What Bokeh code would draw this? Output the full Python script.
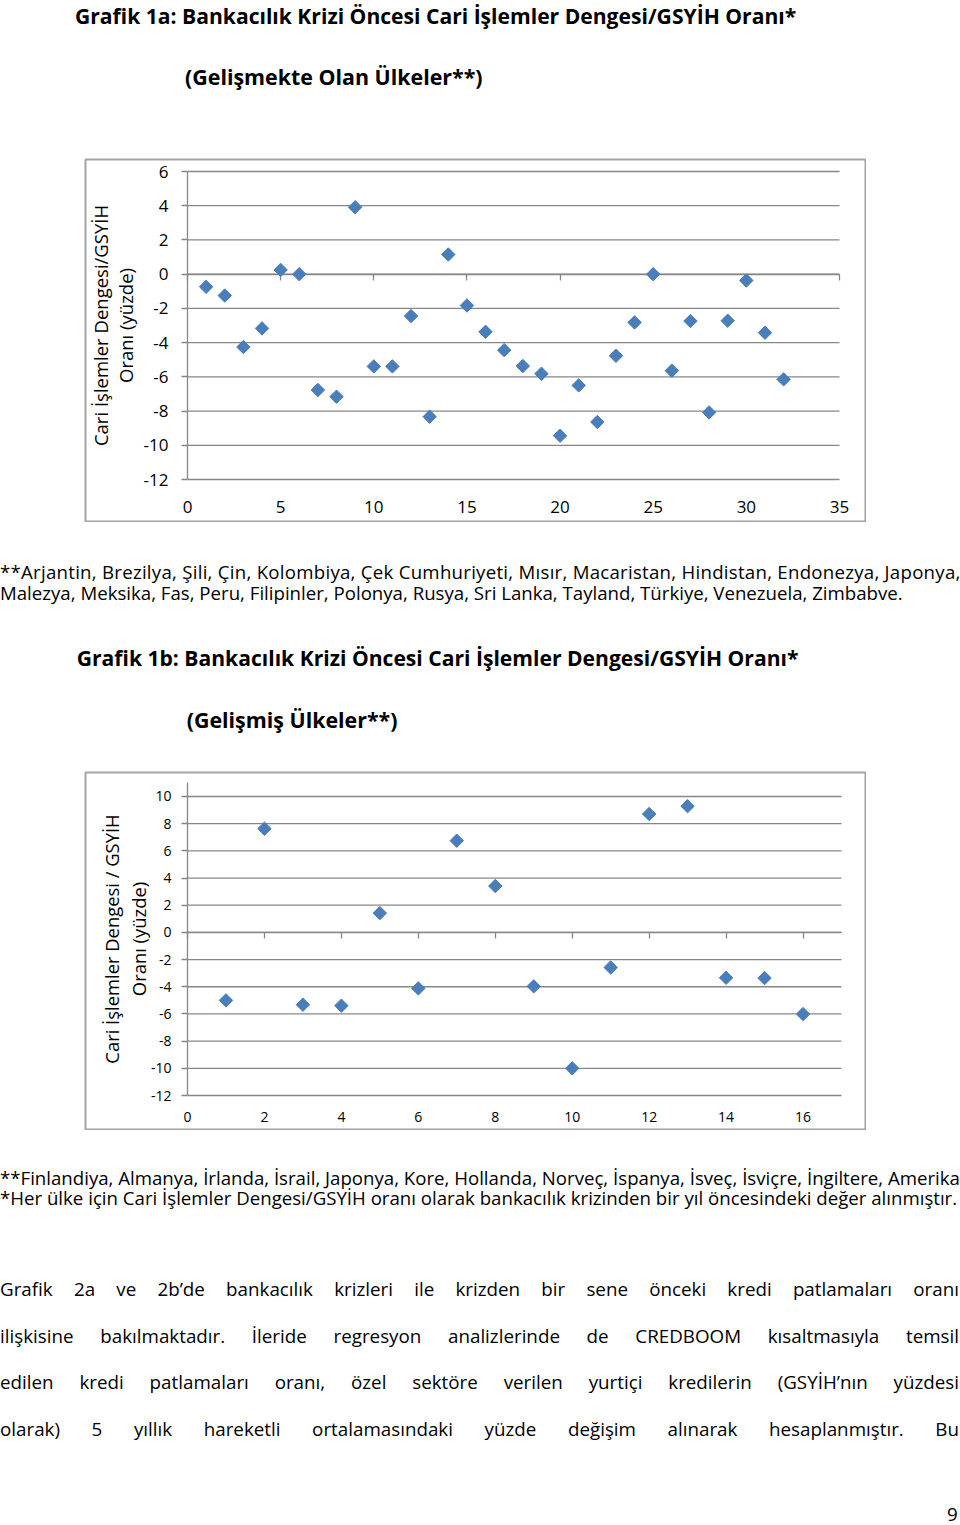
from bokeh.plotting import figure
from bokeh.models import (Range1d, LinearAxis, FixedTicker, Div, Spacer,
                          PrintfTickFormatter)
from bokeh.layouts import column, row
from bokeh.embed import file_html
from bokeh.resources import INLINE

# ---------------- data ----------------
x_1a = [1, 2, 3, 4, 5, 6, 7, 8, 9, 10, 11, 12, 13, 14, 15, 16,
        17, 18, 19, 20, 21, 22, 23, 24, 25, 26, 27, 28, 29, 30, 31, 32]
y_1a = [-0.74, -1.25, -4.26, -3.17, 0.25, 0.0, -6.77, -7.16, 3.91, -5.39, -5.39,
        -2.45, -8.33, 1.15, -1.83, -3.37, -4.44, -5.37, -5.82, -9.44, -6.50,
        -8.64, -4.77, -2.82, 0.0, -5.64, -2.74, -8.08, -2.72, -0.37, -3.42, -6.15]
x_1b = [1, 2, 3, 4, 5, 6, 7, 8, 9, 10, 11, 12, 13, 14, 15, 16]
y_1b = [-5.0, 7.63, -5.32, -5.39, 1.42, -4.12, 6.75, 3.41, -3.97, -10.0,
        -2.58, 8.71, 9.29, -3.34, -3.36, -6.01]

xticks_1a = [0, 5, 10, 15, 20, 25, 30, 35]
yticks_1a = [-12, -10, -8, -6, -4, -2, 0, 2, 4, 6]
xlim_1a = (0, 35)
ylim_1a = (-12, 6)
xticks_1b = [0, 2, 4, 6, 8, 10, 12, 14, 16]
yticks_1b = [-12, -10, -8, -6, -4, -2, 0, 2, 4, 6, 8, 10]
xlim_1b = (0, 17)
ylim_1b = (-12, 11)

title_1a = "Grafik 1a: Bankacılık Krizi Öncesi Cari İşlemler Dengesi/GSYİH Oranı*"
subtitle_1a = "(Gelişmekte Olan Ülkeler**)"
ylabel_1a = "Cari İşlemler Dengesi/GSYİH\nOranı (yüzde)"
note_1a = ["**Arjantin, Brezilya, Şili, Çin, Kolombiya, Çek Cumhuriyeti, Mısır, Macaristan, Hindistan, Endonezya, Japonya,",
           "Malezya, Meksika, Fas, Peru, Filipinler, Polonya, Rusya, Sri Lanka, Tayland, Türkiye, Venezuela, Zimbabve."]
title_1b = "Grafik 1b: Bankacılık Krizi Öncesi Cari İşlemler Dengesi/GSYİH Oranı*"
subtitle_1b = "(Gelişmiş Ülkeler**)"
ylabel_1b = "Cari İşlemler Dengesi / GSYİH\nOranı (yüzde)"
note_1b = ["**Finlandiya, Almanya, İrlanda, İsrail, Japonya, Kore, Hollanda, Norveç, İspanya, İsveç, İsviçre, İngiltere, Amerika",
           "*Her ülke için Cari İşlemler Dengesi/GSYİH oranı olarak bankacılık krizinden bir yıl öncesindeki değer alınmıştır."]
paragraph = ["Grafik 2a ve 2b’de bankacılık krizleri ile krizden bir sene önceki kredi patlamaları oranı",
             "ilişkisine bakılmaktadır. İleride regresyon analizlerinde de CREDBOOM kısaltmasıyla temsil",
             "edilen kredi patlamaları oranı, özel sektöre verilen yurtiçi kredilerin (GSYİH’nın yüzdesi",
             "olarak) 5 yıllık hareketli ortalamasındaki yüzde değişim alınarak hesaplanmıştır. Bu"]
page_no = "9"

FONT = "Open Sans"
GRID = "#878787"
BOX = "#a3a3a3"
MARK = "#4A7EBB"
CHART_W = 782
INSET = 1


def frame_ranges(xlim, ylim, inner, w, h):
    """Extend the data limits so that the plot frame fills the whole chart box,
    with the plotting area at the given pixel rectangle (left, right, top, bottom)."""
    left, right, top, bottom = inner
    sx = (right - left) / (xlim[1] - xlim[0])
    sy = (bottom - top) / (ylim[1] - ylim[0])
    xr = Range1d(xlim[0] - (left - INSET) / sx, xlim[1] + (w - INSET - right) / sx)
    yr = Range1d(ylim[0] - (h - INSET - bottom) / sy, ylim[1] + (top - INSET) / sy)
    return xr, yr


def build_chart(xs, ys, xticks, yticks, xlim, ylim, height, inner, tick_fs,
                label_fs, label_lh, ylabel, x_standoff, y_standoff, ylab_standoff):
    xr, yr = frame_ranges(xlim, ylim, inner, CHART_W, height)
    p = figure(width=CHART_W, height=height, output_backend="svg", toolbar_location=None,
               x_range=xr, y_range=yr, x_axis_type=None, y_axis_type=None,
               min_border=INSET, margin=0)
    p.background_fill_color = "white"
    p.border_fill_color = "white"
    p.outline_line_color = BOX
    p.outline_line_width = 2

    # horizontal gridlines across the plotting area
    p.segment(x0=[xlim[0]] * len(yticks), x1=[xlim[1]] * len(yticks),
              y0=yticks, y1=yticks, line_color=GRID, line_width=1.3)

    ya = LinearAxis(fixed_location=xlim[0], bounds=ylim,
                    ticker=FixedTicker(ticks=yticks),
                    formatter=PrintfTickFormatter(format="%d"),
                    axis_line_color=GRID, axis_line_width=1.3,
                    major_tick_line_color=GRID, major_tick_line_width=1.3,
                    major_tick_out=6, major_tick_in=0, minor_tick_line_color=None,
                    major_label_text_font=FONT, major_label_text_font_size=f"{tick_fs}px",
                    major_label_text_color="black", major_label_standoff=y_standoff,
                    axis_label=ylabel, axis_label_text_font=FONT,
                    axis_label_text_font_size=f"{label_fs}px",
                    axis_label_text_font_style="normal", axis_label_text_color="black",
                    axis_label_text_line_height=label_lh,
                    axis_label_standoff=ylab_standoff)
    p.add_layout(ya, "left")

    xa = LinearAxis(fixed_location=ylim[0], bounds=xlim,
                    ticker=FixedTicker(ticks=xticks),
                    formatter=PrintfTickFormatter(format="%d"),
                    axis_line_color=None, major_tick_line_color=None,
                    minor_tick_line_color=None, major_tick_out=0, major_tick_in=0,
                    major_label_text_font=FONT, major_label_text_font_size=f"{tick_fs}px",
                    major_label_text_color="black", major_label_standoff=x_standoff)
    p.add_layout(xa, "below")

    zero_axis = LinearAxis(fixed_location=0, bounds=xlim, ticker=FixedTicker(ticks=xticks),
                           axis_line_color=GRID, axis_line_width=1.3,
                           major_tick_line_color=GRID, major_tick_line_width=1.3,
                           major_tick_out=6, major_tick_in=0,
                           minor_tick_line_color=None,
                           major_label_text_font_size="0px",
                           major_label_text_color=None, level="underlay")
    p.add_layout(zero_axis, "below")

    p.scatter(xs, ys, marker="square", angle=0.785398, size=9.5,
              fill_color=MARK, line_color=MARK)
    return p


fig_1a = build_chart(x_1a, y_1a, xticks_1a, yticks_1a, xlim_1a, ylim_1a, 364,
                     (103, 755, 13, 321), 17, 18.5, 1.0, ylabel_1a, 21, 13, 3)
fig_1b = build_chart(x_1b, y_1b, xticks_1b, yticks_1b, xlim_1b, ylim_1b, 359,
                     (103, 757, 11.4, 324), 14, 18.4, 1.08, ylabel_1b, 16, 10, -3)

# Open Sans: ascent 1.069 em, descent 0.293 em
ASC, DESC = 1.069, 0.293


def text_el(txt, left, baseline, size, weight="normal", width=None):
    top = baseline - 0.888 * size
    style = (f"position:absolute;left:{left}px;top:{top:.1f}px;font-size:{size}px;"
             f"line-height:{size}px;font-weight:{weight};white-space:nowrap;")
    if width:
        style += f"width:{width}px;text-align:justify;text-align-last:justify;"
    return f'<div style="{style}">{txt}</div>'


def lines_el(lines, left, first_baseline, size, line_h, spacings=None):
    half_lead = (line_h - (ASC + DESC) * size) / 2
    top = first_baseline - (half_lead + ASC * size)
    parts = []
    for i, ln in enumerate(lines):
        ls = spacings[i] if spacings else 0
        parts.append(f'<span style="letter-spacing:{ls}px;">{ln}</span>')
    style = (f"position:absolute;left:{left}px;top:{top:.1f}px;font-size:{size}px;"
             f"line-height:{line_h}px;white-space:nowrap;")
    return f'<div style="{style}">' + "<br>".join(parts) + "</div>"


def block(items, height):
    html = (f'<div style="position:relative;width:960px;height:{height}px;'
            f'font-family:\'{FONT}\',sans-serif;color:#000;">' + "".join(items) + "</div>")
    return Div(text=html, width=960, height=height, margin=0,
               styles={"overflow": "visible"})


TITLE_FS = 21.1
SUB_FS = 21.4
NOTE_FS = 18.65
PARA_FS = 18.8

div_top = block([
    text_el(title_1a, 75, 23.5, TITLE_FS, "bold"),
    text_el(subtitle_1a, 185, 85, SUB_FS, "bold"),
], 158)

div_mid = block([
    lines_el(note_1a, 0, 57, NOTE_FS, 21, spacings=[0.26, 0]),
    text_el(title_1b, 76.7, 143.7, TITLE_FS, "bold"),
    text_el(subtitle_1b, 186.7, 205.7, SUB_FS, "bold"),
], 249)

para_items = [text_el(line, 0, b, PARA_FS, width=959)
              for line, b in zip(paragraph, [166.7, 213.3, 260, 306.7])]
div_bot = block([
    lines_el(note_1b, 0, 55, NOTE_FS, 20.5),
] + para_items + [
    text_el(page_no, 947, 392, PARA_FS),
], 394)

layout = column(
    div_top,
    row(Spacer(width=84, height=364, margin=0), fig_1a, margin=0),
    div_mid,
    row(Spacer(width=84, height=359, margin=0), fig_1b, margin=0),
    div_bot,
    margin=0,
)

open("out.html", "w").write(file_html(layout, INLINE))
